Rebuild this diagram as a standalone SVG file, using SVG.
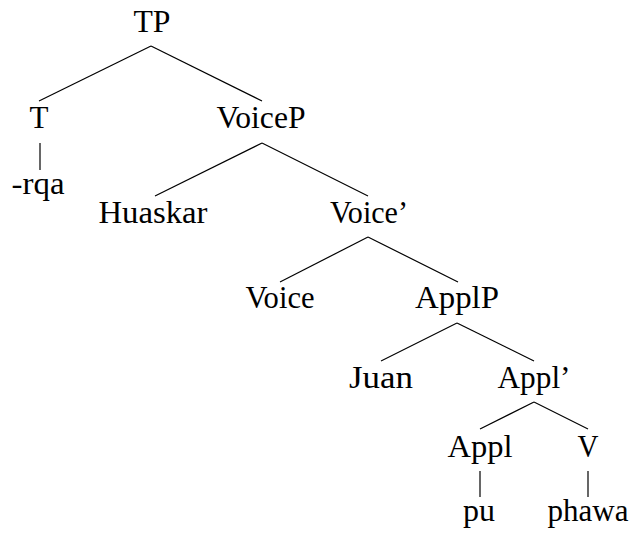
<svg xmlns="http://www.w3.org/2000/svg" width="633" height="534" viewBox="0 0 633 534">
<rect width="633" height="534" fill="#fff"/>
<g id="connectors" stroke="#000" stroke-width="1.2">
<line x1="151" y1="46" x2="39" y2="101"/>
<line x1="151" y1="46" x2="262" y2="101"/>
<line x1="40" y1="143" x2="40" y2="170"/>
<line x1="262" y1="143" x2="155" y2="196"/>
<line x1="262" y1="143" x2="368" y2="196"/>
<line x1="368" y1="237" x2="280" y2="282"/>
<line x1="368" y1="237" x2="458" y2="282"/>
<line x1="457" y1="323" x2="381" y2="361"/>
<line x1="457" y1="323" x2="534" y2="361"/>
<line x1="534" y1="402" x2="480" y2="429"/>
<line x1="534" y1="402" x2="588" y2="429"/>
<line x1="480" y1="471" x2="480" y2="497"/>
<line x1="588" y1="471" x2="588" y2="497"/>
</g>
<g id="TP"><text font-family="Liberation Serif" font-size="31" x="133.5" y="32" textLength="37" lengthAdjust="spacingAndGlyphs">TP</text></g>
<g id="T"><text font-family="Liberation Serif" font-size="31" x="29.5" y="128">T</text></g>
<g id="VoiceP"><text font-family="Liberation Serif" font-size="31" x="216.5" y="128" textLength="89" lengthAdjust="spacingAndGlyphs">VoiceP</text></g>
<g id="rqa"><text font-family="Liberation Serif" font-size="31" x="11.5" y="194" textLength="53" lengthAdjust="spacingAndGlyphs">-rqa</text></g>
<g id="Huaskar"><text font-family="Liberation Serif" font-size="31" x="98.5" y="223" textLength="109" lengthAdjust="spacingAndGlyphs">Huaskar</text></g>
<g id="VoiceBar"><text font-family="Liberation Serif" font-size="31" x="330" y="223" textLength="78" lengthAdjust="spacingAndGlyphs">Voice’</text></g>
<g id="Voice"><text font-family="Liberation Serif" font-size="31" x="245.5" y="308" textLength="69" lengthAdjust="spacingAndGlyphs">Voice</text></g>
<g id="ApplP"><text font-family="Liberation Serif" font-size="31" x="415" y="308" textLength="84" lengthAdjust="spacingAndGlyphs">ApplP</text></g>
<g id="Juan"><text font-family="Liberation Serif" font-size="31" x="349" y="388" textLength="64" lengthAdjust="spacingAndGlyphs">Juan</text></g>
<g id="ApplBar"><text font-family="Liberation Serif" font-size="31" x="497.5" y="388" textLength="73" lengthAdjust="spacingAndGlyphs">Appl’</text></g>
<g id="Appl"><text font-family="Liberation Serif" font-size="31" x="447.5" y="457" textLength="65" lengthAdjust="spacingAndGlyphs">Appl</text></g>
<g id="V"><text font-family="Liberation Serif" font-size="31" x="577.5" y="457" textLength="21" lengthAdjust="spacingAndGlyphs">V</text></g>
<g id="pu"><text font-family="Liberation Serif" font-size="31" x="463" y="521" textLength="32" lengthAdjust="spacingAndGlyphs">pu</text></g>
<g id="phawa"><text font-family="Liberation Serif" font-size="31" x="547.5" y="521" textLength="81" lengthAdjust="spacingAndGlyphs">phawa</text></g>
</svg>
